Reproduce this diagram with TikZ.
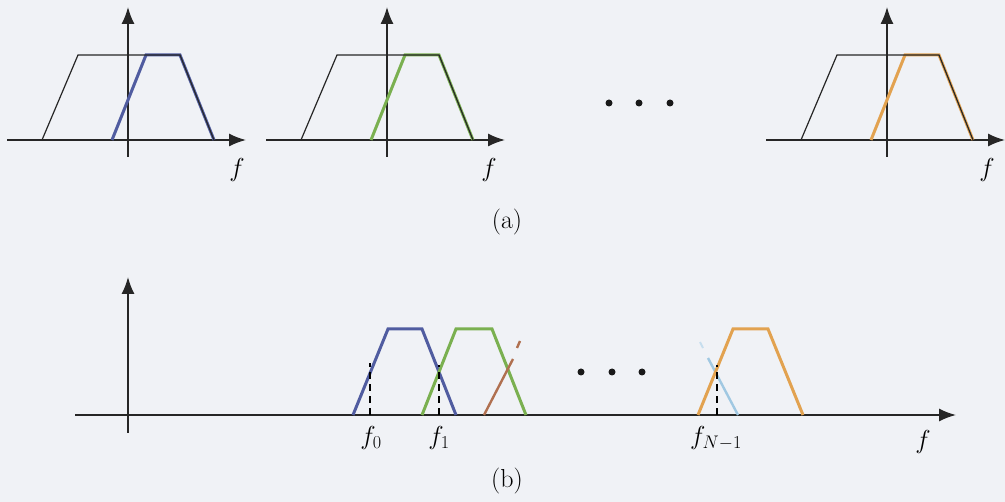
\RequirePackage{fix-cm}
\documentclass[tikz,border=0pt]{standalone}
\usetikzlibrary{arrows.meta}
\definecolor{bg}{RGB}{240,242,246}
\definecolor{cblue}{RGB}{80,92,160}
\definecolor{cgreen}{RGB}{122,176,80}
\definecolor{corange}{RGB}{226,162,80}
\definecolor{cbrown}{RGB}{176,112,80}
\definecolor{clblue}{RGB}{160,200,226}
\begin{document}
\begin{tikzpicture}[x=1pt,y=-1pt,
  axis/.style={line width=1.6pt,draw=black!85,-{Latex[length=17pt,width=13pt]}},
  spec/.style={line width=1.2pt,draw=black!85,line join=miter},
  band/.style={line width=3pt,line join=miter},
  guide/.style={line width=1.4pt,dash pattern=on 7pt off 5pt},
  lbl/.style={font=\fontsize{26}{30}\selectfont,inner sep=0pt},
  dot/.style={circle,fill=black!90,inner sep=0pt,minimum size=7pt}]
\useasboundingbox[fill=bg] (0,0) rectangle (1005,502);
% ---------- (a) ----------
\foreach \O/\c/\fx/\id in {128/cblue/237/p, 387/cgreen/489/q, 887/corange/987/r}{
  \coordinate (\id xl) at (\O-121,140);
  \coordinate (\id xr) at (\O+118,140);
  \coordinate (\id yb) at (\O,157);
  \coordinate (\id yt) at (\O,7);
  \draw[axis] (\id xl) -- (\id xr);
  \draw[axis] (\id yb) -- (\id yt);
  \draw[band,draw=\c] (\O-16,140) -- (\O+18,55) -- (\O+52,55) -- (\O+86,140);
  \draw[spec] (\O-86,140) -- (\O-50,55) -- (\O+52,55) -- (\O+86,140);
  \node[lbl] (\id f) at (\fx,170) {$f$};
}
\node[dot] (ad1) at (609,103) {};
\node[dot] (ad2) at (639,103) {};
\node[dot] (ad3) at (670,103) {};
\node[lbl] (capa) at (507,222) {(a)};
% ---------- (b) ----------
\coordinate (bxl) at (75,415);
\coordinate (bxr) at (956,415);
\coordinate (byb) at (128,433);
\coordinate (byt) at (128,277);
\draw[axis] (bxl) -- (bxr);
\draw[axis] (byb) -- (byt);
\draw[band,draw=cblue] (353,415) -- (388,329) -- (422,329) -- (456,415);
\draw[band,draw=cgreen] (422,415) -- (456,329) -- (492,329) -- (526,415);
\draw[band,draw=cbrown,line width=2.4pt] (484,415) -- (513,359);
\draw[band,draw=cbrown,line width=2.4pt] (517,348) -- (520,341);
\draw[band,draw=clblue,line width=2.4pt] (738,415) -- (708,358);
\draw[band,draw=clblue!60,line width=2pt] (703,348) -- (700,342);
\draw[band,draw=corange] (698,415) -- (733,329) -- (768,329) -- (803,415);
\coordinate (g0b) at (370,415); \coordinate (g0t) at (370,363);
\coordinate (g1b) at (439,415); \coordinate (g1t) at (439,365);
\coordinate (g2b) at (717,415); \coordinate (g2t) at (717,365);
\draw[guide] (g0b) -- (g0t);
\draw[guide] (g1b) -- (g1t);
\draw[guide] (g2b) -- (g2t);
\node[lbl] (f0) at (371,438) {$f_0$};
\node[lbl] (f1) at (439,438) {$f_1$};
\node[lbl] (fN) at (716,438) {$f_{N-1}$};
\node[lbl] (fb) at (923,442) {$f$};
\node[dot] (bd1) at (581,372) {};
\node[dot] (bd2) at (612,372) {};
\node[dot] (bd3) at (642,372) {};
\node[lbl] (capb) at (507,481) {(b)};
\end{tikzpicture}
\end{document}
